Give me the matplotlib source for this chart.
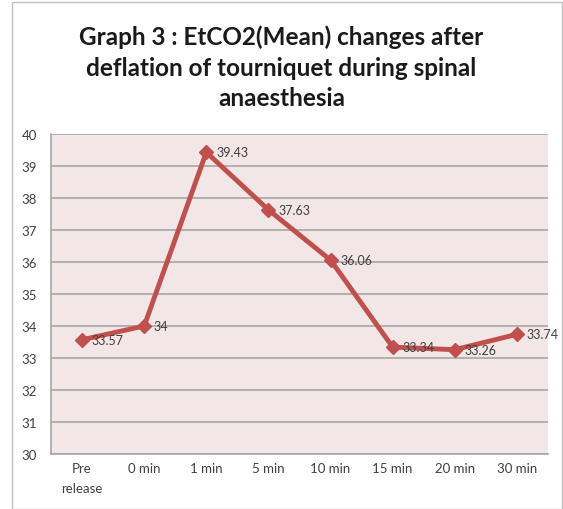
import matplotlib.pyplot as plt
from matplotlib.patches import Rectangle

categories = ['Pre\nrelease', '0 min', '1 min', '5 min', '10 min', '15 min', '20 min', '30 min']
etco2 = [33.57, 34, 39.43, 37.63, 36.06, 33.34, 33.26, 33.74]
labels = ['33.57', '34', '39.43', '37.63', '36.06', '33.34', '33.26', '33.74']

plt.rcParams['font.family'] = ['Lato', 'DejaVu Sans']

fig = plt.figure(figsize=(5.63, 5.10), dpi=100)
fig.patches.append(Rectangle((12 / 563, 0), 1 - 13 / 563, 1 - 3 / 510,
                             transform=fig.transFigure, fill=False,
                             edgecolor='#BFBFBF', linewidth=1))

ax = fig.add_axes([51 / 563, 1 - 455 / 510, 497 / 563, 320 / 510])
ax.set_facecolor('#F2E6E6')

x = list(range(len(categories)))
ax.plot(x, etco2, color='#C0504D', linewidth=3.5, marker='D', markersize=7,
        markeredgecolor='#C0504D', zorder=3)

for xi, yi, lab in zip(x, etco2, labels):
    ax.annotate(lab, (xi, yi), xytext=(7, 0), textcoords='offset points',
                ha='left', va='center', fontsize=9, color='#404040', zorder=4)

ax.set_xlim(-0.5, len(categories) - 0.5)
ax.set_ylim(30, 40)
ax.set_yticks(range(30, 41))
ax.set_xticks(x)
ax.set_xticklabels(categories, fontsize=9.5, color='#404040', linespacing=1.8)
ax.tick_params(axis='y', labelsize=9.5, labelcolor='#404040', length=0, pad=10)
ax.tick_params(axis='x', length=0, pad=6)
ax.grid(axis='y', color='#A6A6A6', linewidth=1.2)
ax.set_axisbelow(True)
for s in ['top', 'right']:
    ax.spines[s].set_visible(False)
for s in ['left', 'bottom']:
    ax.spines[s].set_color('#A6A6A6')
    ax.spines[s].set_linewidth(1.2)

fig.text(0.5, 1 - 68 / 510, 'Graph 3 : EtCO2(Mean) changes after\ndeflation of tourniquet during spinal\nanaesthesia',
         ha='center', va='center', fontsize=17.5, fontweight='bold', linespacing=1.4, color='#1A1A1A')

fig.savefig('out.png', dpi=100)
